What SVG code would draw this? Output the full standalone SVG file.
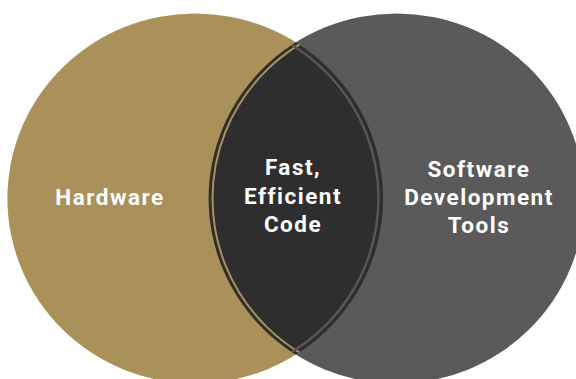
<svg xmlns="http://www.w3.org/2000/svg" width="576" height="379" viewBox="0 0 576 379">
  <style>
    .label { font-family: Roboto, "Liberation Sans", sans-serif; font-weight: 700; font-size: 22.5px; letter-spacing: 1.5px; fill: #ffffff; text-anchor: middle; }
  </style>
  <defs>
    <clipPath id="clip-left">
      <ellipse cx="195.2" cy="198.5" rx="187.8" ry="185"/>
    </clipPath>
    <clipPath id="clip-right">
      <ellipse cx="396.5" cy="198.5" rx="187.8" ry="185"/>
    </clipPath>
  </defs>
  <rect width="576" height="379" fill="#ffffff"/>

  <!-- Left set -->
  <g id="node-hardware">
    <ellipse cx="195.2" cy="198.5" rx="187.8" ry="185" fill="#AA9159"/>
    <text class="label" x="110" y="205">Hardware</text>
  </g>

  <!-- Right set -->
  <g id="node-software">
    <ellipse cx="396.5" cy="198.5" rx="187.8" ry="185" fill="#5A5A5A"/>
    <text class="label" x="479" y="177">Software</text>
    <text class="label" x="479" y="205">Development</text>
    <text class="label" x="479" y="233">Tools</text>
  </g>

  <!-- Overlap -->
  <g id="node-overlap">
    <g clip-path="url(#clip-left)">
      <ellipse cx="396.5" cy="198.5" rx="187.8" ry="185" fill="#2E2E2E"/>
      <ellipse cx="396.5" cy="198.5" rx="184" ry="181.2" fill="none" stroke="#AA9159" stroke-width="2"/>
    </g>
    <g clip-path="url(#clip-right)">
      <ellipse cx="195.2" cy="198.5" rx="183.3" ry="180.5" fill="none" stroke="#575757" stroke-width="2.4"/>
    </g>
    <text class="label" x="293" y="175">Fast,</text>
    <text class="label" x="293" y="203.5">Efficient</text>
    <text class="label" x="293" y="232">Code</text>
  </g>
</svg>
